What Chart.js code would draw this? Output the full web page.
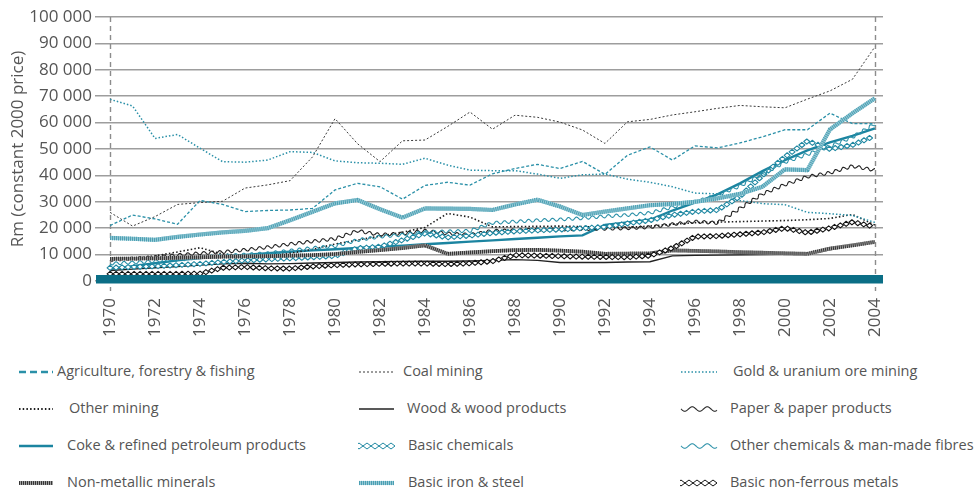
<!DOCTYPE html>
<html lang="en">
<head>
<meta charset="UTF-8">
<title>Real output by sector, 1970-2004</title>
<script src="https://cdn.jsdelivr.net/npm/chart.js"></script>
<style>
  body { margin: 0; background: #fff; font-family: 'Open Sans', sans-serif; }
  .wrap { position: relative; width: 975px; height: 499px; overflow: hidden; }
  .chart-box { position: absolute; left: 0; top: 0; width: 975px; height: 345px; }
  .lg-sample { position: absolute; }
  .lg-text { position: absolute; color: #555; font-size: 14.5px; line-height: 20px; white-space: nowrap; }
</style>
</head>
<body>
<div class="wrap" id="wrap">
  <div class="chart-box"><canvas id="chart"></canvas></div>
</div>
<script>
// categories
const years = [1970, 1971, 1972, 1973, 1974, 1975, 1976, 1977, 1978, 1979,
               1980, 1981, 1982, 1983, 1984, 1985, 1986, 1987, 1988, 1989,
               1990, 1991, 1992, 1993, 1994, 1995, 1996, 1997, 1998, 1999,
               2000, 2001, 2002, 2003, 2004];
const tickYears = [1970, 1972, 1974, 1976, 1978, 1980, 1982, 1984, 1986, 1988,
                   1990, 1992, 1994, 1996, 1998, 2000, 2002, 2004];
const yTicks = [0, 10000, 20000, 30000, 40000, 50000, 60000, 70000, 80000, 90000, 100000];

const seriesNames = [
  'Agriculture, forestry & fishing', 'Coal mining', 'Gold & uranium ore mining',
  'Other mining', 'Wood & wood products', 'Paper & paper products',
  'Coke & refined petroleum products', 'Basic chemicals', 'Other chemicals & man-made fibres',
  'Non-metallic minerals', 'Basic iron & steel', 'Basic non-ferrous metals'
];

// values, Rm constant 2000 prices
const agriculture = [21000, 25000, 23500, 21500, 30500, 29000, 26300, 26700, 26900, 27500,
                     34500, 37000, 35700, 31000, 36200, 37400, 36300, 40600, 42600, 44200,
                     42600, 45300, 40400, 47600, 50800, 45800, 51200, 50400, 52300, 54600,
                     57300, 57300, 63600, 59600, 59600];
const coalMining = [26000, 20800, 24400, 29000, 29700, 30200, 35200, 36400, 38000, 47000,
                    61500, 52000, 45200, 53100, 53400, 58500, 64000, 57500, 62800, 62000,
                    60200, 57200, 52100, 60300, 61200, 62900, 64100, 65400, 66500, 66000,
                    65600, 68900, 72000, 76400, 88700];
const goldMining = [68800, 66300, 54000, 55500, 50300, 45200, 45000, 45800, 49000, 48700,
                    45500, 44800, 44600, 44200, 46500, 43900, 42000, 41800, 41800, 40500,
                    38900, 40200, 40500, 38600, 37400, 35700, 33300, 33000, 30500, 29300,
                    28900, 26000, 25500, 24800, 22200];
const otherMining = [8000, 8600, 9500, 11000, 12600, 10200, 9800, 9500, 10500, 12000,
                     14000, 15500, 17000, 18500, 20300, 25600, 24200, 20500, 20600, 20700,
                     20800, 20600, 20500, 20300, 20800, 21500, 22100, 22300, 22500, 22700,
                     22900, 23200, 23700, 25200, 21200];
const woodProducts = [4000, 4500, 5000, 5500, 6000, 6500, 6700, 6500, 6600, 6800,
                      7000, 7200, 7300, 7400, 7500, 7500, 7600, 7800, 8100, 7800,
                      7000, 7000, 7000, 7200, 7300, 9500, 9700, 9800, 9900, 10000,
                      10100, 10200, 11800, 13300, 14900];
const paperProducts = [8000, 8500, 9000, 9800, 10500, 11000, 11800, 12800, 14000, 15000,
                       16000, 19000, 17500, 18000, 19000, 18000, 17500, 19000, 19200, 19500,
                       19500, 19700, 19800, 20000, 20400, 21500, 22500, 22000, 27500, 33000,
                       36500, 39500, 41000, 43500, 42000];
const cokePetroleum = [4600, 5600, 6700, 7800, 8700, 9300, 9900, 10500, 11100, 11600,
                       12000, 12500, 13000, 13400, 13900, 14400, 14900, 15400, 15900, 16400,
                       16900, 17300, 21200, 22200, 23200, 26700, 29700, 32800, 37000, 41600,
                       45800, 49500, 52500, 55000, 57800];
const basicChemicals = [5000, 5300, 5600, 6000, 6500, 7200, 7800, 8200, 8600, 9000,
                        9500, 12400, 13000, 15500, 18000, 16500, 17200, 18200, 18800, 19200,
                        19500, 20000, 20500, 21800, 23000, 25000, 26300, 26900, 32000, 40000,
                        47000, 53000, 50000, 51500, 55000];
const otherChemicals = [6600, 7000, 7500, 8000, 9000, 9500, 10000, 10500, 11500, 12500,
                        13200, 15500, 16800, 17500, 18500, 18800, 19000, 22000, 22500, 23000,
                        23300, 23800, 24500, 25000, 25800, 28000, 30000, 32500, 36000, 40500,
                        45000, 48000, 51000, 54500, 59500];
const nonMetallic = [8400, 8500, 8600, 8800, 9000, 9200, 9300, 9400, 9600, 9800,
                     10200, 11000, 11700, 12500, 13500, 10300, 10800, 11300, 11700, 11800,
                     11500, 11100, 10300, 10400, 10500, 11600, 11400, 11200, 10900, 10700,
                     10500, 10300, 12300, 13500, 14800];
const ironSteel = [16300, 16000, 15600, 16700, 17600, 18400, 19000, 20000, 23000, 26200,
                   29400, 30700, 27200, 24000, 27500, 27400, 27300, 26900, 29000, 30800,
                   28200, 25000, 26300, 27500, 28700, 29200, 30000, 31300, 33000, 35700,
                   42300, 42000, 57400, 63500, 69200];
const nonFerrous = [2700, 2700, 2700, 2700, 2800, 5000, 5300, 4800, 4700, 5500,
                    6000, 6300, 6500, 6600, 6600, 6400, 6700, 7500, 9800, 9600,
                    9400, 9200, 9100, 9000, 9600, 12500, 16800, 17000, 17700, 18400,
                    20000, 18300, 20000, 22300, 20600];

const seriesValues = [agriculture, coalMining, goldMining, otherMining, woodProducts, paperProducts,
                      cokePetroleum, basicChemicals, otherChemicals, nonMetallic, ironSteel, nonFerrous];

// line styles, same order as the series
const TEAL = '#1b84a0';
const styles = [
  { color: '#2a90a8', width: 1.3, dash: [3, 2], legendWidth: 2.6, legendDash: [7, 4] },
  { color: '#3a3a3a', width: 1, dash: [2, 2] },
  { color: '#2a90a8', width: 1.5, dash: [1.5, 2] },
  { color: '#1e1e1e', width: 1.6, dash: [1.5, 2.2], legendWidth: 2.2 },
  { color: '#222', width: 1.4 },
  { pattern: 'wave', color: '#222', width: 1.1, amp: 1.5, period: 8 },
  { color: TEAL, width: 2.4 },
  { pattern: 'diamond', color: '#1f88a2', width: 1.1, size: 3 },
  { pattern: 'wave', color: '#2a90a8', width: 1.1, amp: 1.5, period: 8 },
  { pattern: 'hatch', color: '#333', under: '#a0a0a0', width: 3.8 },
  { pattern: 'hatch', color: '#4a9fb3', under: '#98cad6', width: 4.2 },
  { pattern: 'diamond', color: '#111', width: 1.1, size: 3 }
];

const FONT = "'Open Sans', sans-serif";
const TEXT = '#555';

function fmt(v) {
  return String(v).replace(/\B(?=(\d{3})+(?!\d))/g, ' ');
}

function polyline(ctx, pts) {
  ctx.beginPath();
  pts.forEach((p, i) => i ? ctx.lineTo(p.x, p.y) : ctx.moveTo(p.x, p.y));
}

// call fn every `step` px along a polyline
function alongPath(pts, step, fn) {
  let dist = 0, next = 0;
  for (let i = 0; i < pts.length - 1; i++) {
    const a = pts[i], b = pts[i + 1];
    const dx = b.x - a.x, dy = b.y - a.y, len = Math.hypot(dx, dy);
    if (!len) continue;
    while (next <= dist + len) {
      const t = (next - dist) / len;
      fn(a.x + dx * t, a.y + dy * t, dx / len, dy / len, next);
      next += step;
    }
    dist += len;
  }
}

function drawStyled(ctx, pts, st, legend) {
  ctx.save();
  ctx.lineJoin = 'round';
  const w = (legend && st.legendWidth) || st.width;
  if (st.pattern === 'wave') {
    const amp = legend ? 2.2 : st.amp, period = legend ? 15 : st.period;
    ctx.beginPath();
    let first = true;
    alongPath(pts, 0.5, (x, y, ux, uy, s) => {
      const o = amp * Math.sin(2 * Math.PI * s / period);
      const px = x - uy * o, py = y + ux * o;
      if (first) { ctx.moveTo(px, py); first = false; } else ctx.lineTo(px, py);
    });
    ctx.strokeStyle = st.color; ctx.lineWidth = w; ctx.stroke();
  } else if (st.pattern === 'diamond') {
    const r = legend ? 4 : st.size;
    ctx.strokeStyle = st.color; ctx.lineWidth = legend ? 1 : w; ctx.fillStyle = '#fff';
    alongPath(pts, r * 2, (x, y) => {
      const h = legend ? 3 : r * 0.85;
      ctx.beginPath();
      ctx.moveTo(x - r, y); ctx.lineTo(x, y - h);
      ctx.lineTo(x + r, y); ctx.lineTo(x, y + h);
      ctx.closePath(); ctx.fill(); ctx.stroke();
    });
  } else if (st.pattern === 'hatch') {
    polyline(ctx, pts);
    ctx.strokeStyle = st.under; ctx.lineWidth = w; ctx.stroke();
    polyline(ctx, pts);
    ctx.setLineDash([1, 1]); ctx.strokeStyle = st.color; ctx.stroke();
  } else {
    polyline(ctx, pts);
    ctx.setLineDash((legend && st.legendDash) || st.dash || []);
    ctx.strokeStyle = st.color; ctx.lineWidth = w; ctx.stroke();
  }
  ctx.restore();
}

// axis band, dashed end markers, patterned series
const decorPlugin = {
  id: 'decor',
  beforeDatasetsDraw(chart) {
    const { ctx, chartArea, scales } = chart;
    ctx.save();
    ctx.setLineDash([5, 4]);
    ctx.strokeStyle = '#8c8c8c';
    ctx.lineWidth = 1.4;
    [years[0], years[years.length - 1]].forEach(yr => {
      const x = Math.round(scales.x.getPixelForValue(yr)) + 0.5;
      ctx.beginPath();
      ctx.moveTo(x, chartArea.top);
      ctx.lineTo(x, chartArea.bottom + 10);
      ctx.stroke();
    });
    ctx.restore();
  },
  afterDatasetsDraw(chart) {
    const { ctx, chartArea, scales } = chart;
    chart.data.datasets.forEach((ds, i) => {
      if (!ds.pattern) return;
      const pts = chart.getDatasetMeta(i).data.map(p => ({ x: p.x, y: p.y }));
      drawStyled(ctx, pts, styles[i], false);
    });
    const y0 = scales.y.getPixelForValue(0);
    ctx.save();
    ctx.fillStyle = '#0b6e86';
    ctx.fillRect(chartArea.left + 1, y0 - 6, chartArea.right - chartArea.left - 1, 8.5);
    ctx.restore();
  }
};

const datasets = seriesNames.map((name, i) => {
  const st = styles[i];
  return {
    label: name,
    data: years.map((yr, j) => ({ x: yr, y: seriesValues[i][j] })),
    pattern: st.pattern || null,
    showLine: !st.pattern,
    borderColor: st.color,
    borderWidth: st.width,
    borderDash: st.dash || [],
    pointRadius: 0,
    tension: 0,
    fill: false
  };
});

new Chart(document.getElementById('chart'), {
  type: 'line',
  data: { datasets: datasets },
  options: {
    responsive: true,
    maintainAspectRatio: false,
    animation: false,
    layout: { padding: { top: 17, right: 92, left: 0, bottom: 0 } },
    plugins: { legend: { display: false }, tooltip: { enabled: false } },
    scales: {
      x: {
        type: 'linear',
        min: 1969.33,
        max: 2004.36,
        afterBuildTicks: s => { s.ticks = tickYears.map(v => ({ value: v })); },
        afterFit: s => { s.height = 64; },
        grid: { display: false },
        border: { display: false },
        ticks: {
          minRotation: 90, maxRotation: 90, padding: 9, color: TEXT,
          font: { family: FONT, size: 17 },
          callback: v => String(v)
        }
      },
      y: {
        min: 0,
        max: 100000,
        afterBuildTicks: s => { s.ticks = yTicks.map(v => ({ value: v })); },
        afterFit: s => { s.width = 95; },
        grid: { color: '#9d9d9d', lineWidth: 1.5, drawTicks: false },
        border: { display: false },
        ticks: { padding: 3, color: TEXT, font: { family: FONT, size: 17 }, callback: v => fmt(v) },
        title: {
          display: true, text: 'Rm (constant 2000 price)', color: TEXT,
          font: { family: FONT, size: 17 }, padding: { top: 8, bottom: 0 }
        }
      }
    }
  },
  plugins: [decorPlugin]
});

// legend, 3 columns x 4 rows, row-major in series order
const legendCols = [
  { sx: 18, sw: 36, tx: [57, 69, 67, 67] },
  { sx: 358, sw: 37, tx: [403, 407, 408, 408] },
  { sx: 680, sw: 38, tx: [733, 730, 730, 730] }
];
const legendRows = [372, 409, 446, 483];
const wrap = document.getElementById('wrap');
seriesNames.forEach((name, i) => {
  const col = legendCols[i % 3], row = Math.floor(i / 3), cy = legendRows[row];
  const c = document.createElement('canvas');
  c.width = col.sw; c.height = 14;
  c.className = 'lg-sample';
  c.style.left = col.sx + 'px';
  c.style.top = (cy - 7) + 'px';
  wrap.appendChild(c);
  drawStyled(c.getContext('2d'), [{ x: 1, y: 7 }, { x: col.sw - 1, y: 7 }], styles[i], true);
  const t = document.createElement('div');
  t.className = 'lg-text';
  t.textContent = name;
  t.style.left = col.tx[row] + 'px';
  t.style.top = (cy - 11) + 'px';
  wrap.appendChild(t);
});
</script>
</body>
</html>
